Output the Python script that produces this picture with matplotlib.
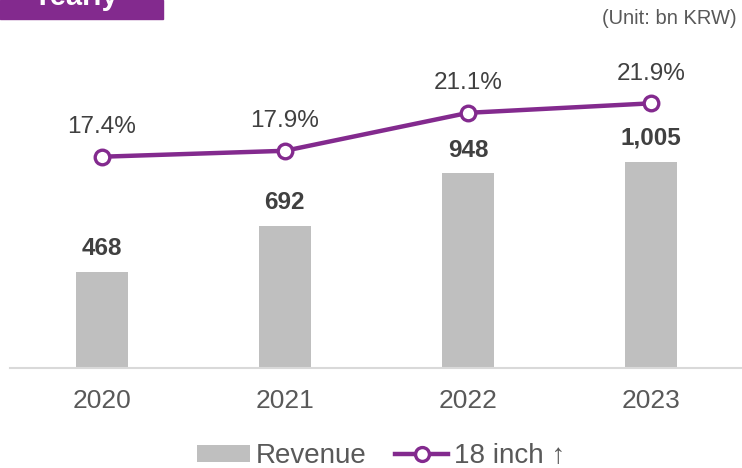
import matplotlib
matplotlib.use("Agg")
import matplotlib.pyplot as plt
from matplotlib.patches import Patch, Rectangle
from matplotlib.lines import Line2D

years = ["2020", "2021", "2022", "2023"]
revenue = [468, 692, 948, 1005]
revenue_labels = ["468", "692", "948", "1,005"]
share_18inch = [17.4, 17.9, 21.1, 21.9]
share_labels = ["17.4%", "17.9%", "21.1%", "21.9%"]

PURPLE = "#832A8E"
BAR = "#BFBFBF"
TXT = "#404040"
TXT2 = "#595959"
FONT = ["Liberation Sans", "DejaVu Sans"]
plt.rcParams["font.family"] = FONT

fig = plt.figure(figsize=(7.42, 4.68), dpi=100)
ax = fig.add_axes([10 / 742, 100 / 468, 733 / 742, 308 / 468])
ax.set_xlim(-0.5, 3.5)
ax.set_ylim(0, 1500)

x = list(range(len(years)))
ax.bar(x, revenue, width=0.284, color=BAR, zorder=2)
for xi, v, lab in zip(x, revenue, revenue_labels):
    ax.annotate(lab, (xi, v), xytext=(0, 12), textcoords="offset points",
                ha="center", va="baseline", fontsize=17.5, fontweight="bold", color=TXT)

for s in ["top", "right", "left"]:
    ax.spines[s].set_visible(False)
ax.spines["bottom"].set_color("#D9D9D9")
ax.spines["bottom"].set_linewidth(1.5)
ax.set_yticks([])
ax.set_xticks(x)
ax.set_xticklabels(years, fontsize=19, color=TXT2)
ax.tick_params(axis="x", length=0, pad=15)

ax2 = ax.twinx()
ax2.set_ylim(-0.40, 25.55)
ax2.set_yticks([])
for s in ax2.spines.values():
    s.set_visible(False)
ax2.plot(x, share_18inch, color=PURPLE, lw=3.2, marker="o", markersize=10.5,
         markerfacecolor="white", markeredgecolor=PURPLE, markeredgewidth=2.4, zorder=3)
for xi, v, lab in zip(x, share_18inch, share_labels):
    ax2.annotate(lab, (xi, v), xytext=(0, 17), textcoords="offset points",
                 ha="center", va="baseline", fontsize=17.5, color=TXT)

# Title box (cut off at top)
fig.patches.append(Rectangle((0, 1 - 19 / 468), 163 / 742, 19 / 468,
                             transform=fig.transFigure, color=PURPLE, zorder=0))
fig.text(75 / 742, 1 - 5 / 468, "Yearly", ha="center", va="baseline",
         fontsize=21, fontweight="bold", color="white")

fig.text(737 / 742, 1 - 19 / 468, "(Unit: bn KRW)", ha="right", va="center",
         fontsize=14.5, color=TXT2)

handles = [Patch(facecolor=BAR, edgecolor="none", label="Revenue"),
           Line2D([0], [0], color=PURPLE, lw=3.2, marker="o", markersize=10,
                  markerfacecolor="white", markeredgecolor=PURPLE,
                  markeredgewidth=2.4, label="18 inch ↑")]
leg = fig.legend(handles=handles, loc="center", bbox_to_anchor=(381 / 742, 1 - 456 / 468),
                 ncol=2, frameon=False, fontsize=20, handlelength=1.9,
                 handleheight=0.55, handletextpad=0.2, columnspacing=1.05,
                 borderpad=0, borderaxespad=0)
for t in leg.get_texts():
    t.set_color(TXT2)

fig.savefig("out.png", dpi=100)
